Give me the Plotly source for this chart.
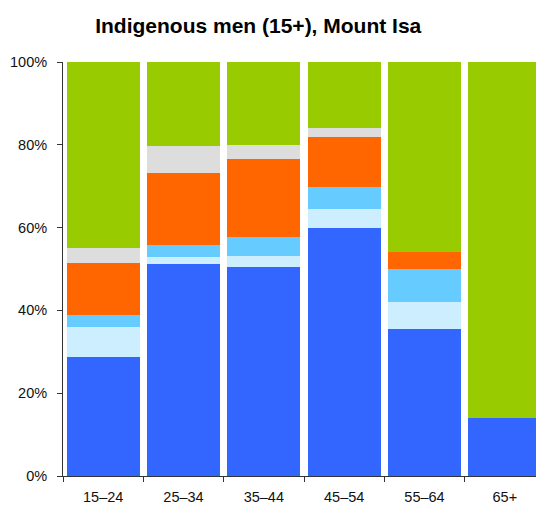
import plotly.graph_objects as go

categories = ["15–24", "25–34", "35–44", "45–54", "55–64", "65+"]
series_names = ["Employed full-time", "Employed part-time", "Employed (hours not stated)",
                "Unemployed", "Labour force status not stated", "Not in the labour force"]
blue = [28.8, 51.1, 50.4, 59.8, 35.6, 14.0]
light_blue = [7.2, 1.7, 2.8, 4.7, 6.5, 0.0]
sky_blue = [2.8, 3.1, 4.6, 5.3, 8.0, 0.0]
orange = [12.7, 17.3, 18.8, 12.2, 3.9, 0.0]
grey = [3.5, 6.4, 3.4, 2.0, 0.0, 0.0]
green = [45.0, 20.4, 20.0, 16.0, 46.0, 86.0]
y_ticks = [0, 20, 40, 60, 80, 100]
y_tick_labels = ["0%", "20%", "40%", "60%", "80%", "100%"]

series = [blue, light_blue, sky_blue, orange, grey, green]
colors = ["#3366FF", "#CCEEFF", "#66CCFF", "#FF6600", "#DDDDDD", "#99CC00"]

fig = go.Figure()
for name, vals, col in zip(series_names, series, colors):
    fig.add_trace(go.Bar(x=categories, y=vals, name=name,
                         marker=dict(color=col, line=dict(width=0))))

font = "Liberation Sans, Arial, Helvetica, sans-serif"
fig.update_layout(
    barmode="stack",
    bargap=0.095,
    width=544, height=506,
    margin=dict(l=55, r=7, t=54, b=38),
    paper_bgcolor="white", plot_bgcolor="white",
    showlegend=False,
    title=dict(text="<b>Indigenous men (15+), Mount Isa</b>", x=0.46, xanchor="center",
               y=0.966, yanchor="middle",
               font=dict(family=font, size=21, color="black")),
    font=dict(family=font, size=14.5, color="#111111"),
)
fig.update_xaxes(showline=True, linecolor="#333333", linewidth=1,
                 ticks="outside", tickson="boundaries", ticklen=5, tickcolor="#333333",
                 showgrid=False, tickfont=dict(size=14.5), ticklabelstandoff=8,
                 automargin=False)
fig.update_yaxes(range=[0, 100], tickvals=y_ticks, ticktext=y_tick_labels,
                 showline=True, linecolor="#333333", linewidth=1,
                 ticks="outside", ticklen=5, tickcolor="#333333",
                 showgrid=False, zeroline=False, tickfont=dict(size=14.5),
                 ticklabelstandoff=7, automargin=False)

fig.write_html("out.html")
